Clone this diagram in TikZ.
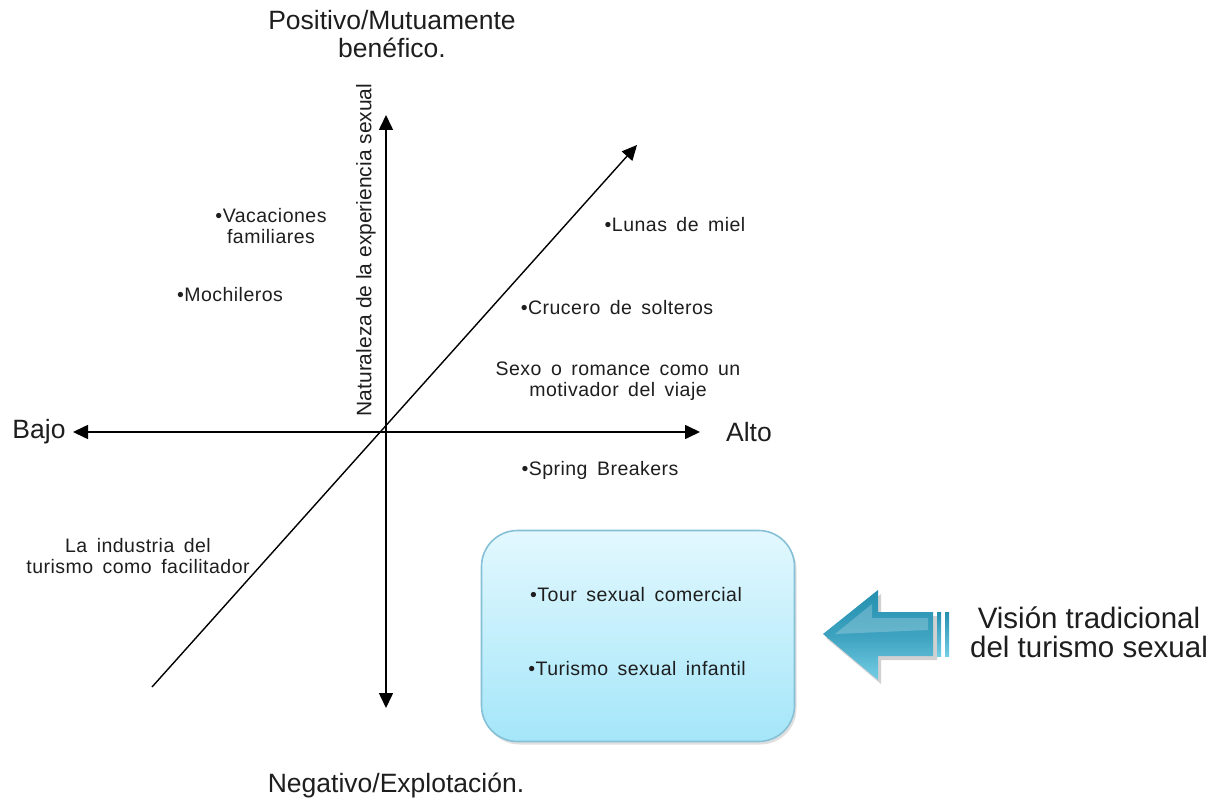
\documentclass[tikz,border=0pt]{standalone}
\usepackage{fontspec}
\setmainfont{Liberation Sans}
\newfontfamily\spacedfont[LetterSpace=2.5,WordSpace=1.6]{Liberation Sans}
\usetikzlibrary{arrows.meta,shadows}
\definecolor{txt}{HTML}{1E1E1E}
\definecolor{boxtop}{HTML}{E3F8FE}
\definecolor{boxbot}{HTML}{A4E6F9}
\definecolor{boxline}{HTML}{86C0D6}
\definecolor{arrtop}{HTML}{2590B0}
\definecolor{arrbot}{HTML}{74CDE4}
\tikzset{
  axis/.style={line width=1.6pt,draw=black,-{Triangle[length=15pt,width=14pt]}},
  axisboth/.style={line width=1.6pt,draw=black,{Triangle[length=15pt,width=14pt]}-{Triangle[length=15pt,width=14pt]}},
  big/.style={font=\fontsize{26.5}{31}\selectfont,text=txt,inner sep=0pt,align=center},
  small/.style={font=\spacedfont\fontsize{19.5}{22}\selectfont,text=txt,inner sep=0pt,align=center},
  vision/.style={font=\fontsize{29.5}{31}\selectfont,text=txt,inner sep=0pt,align=center},
  bluebox/.style={rounded corners=36pt,top color=boxtop,bottom color=boxbot,draw=boxline,line width=1.6pt,
    minimum width=313pt,minimum height=211pt,drop shadow={shadow xshift=2pt,shadow yshift=-3pt,opacity=0.25}}
}
\begin{document}
\begin{tikzpicture}[x=1pt,y=-1pt]
\useasboundingbox (0,0) rectangle (1217,799);
\fill[white] (0,0) rectangle (1217,799);

% axis end points
\coordinate (hl) at (73,432);
\coordinate (hr) at (700,432);
\coordinate (vt) at (386,115);
\coordinate (vb) at (386,708);
\coordinate (dl) at (152,687);
\coordinate (dr) at (637,145);

\draw[axisboth] (hl) -- (hr);
\draw[axisboth] (vt) -- (vb);
\draw[axis,line width=1.4pt] (dl) -- (dr);

% labels
\node[big] (pos) at (392,34) {Positivo/Mutuamente\\[-3pt]benéfico.};
\node[big] (neg) at (396,785) {Negativo/Explotación.};
\node[big] (bajo) at (39,432) {Bajo};
\node[big] (alto) at (749,432) {Alto};
\node[font=\fontsize{21}{24}\selectfont,text=txt,inner sep=0pt,rotate=90] (nat) at (366,250) {Naturaleza de la experiencia sexual};

\node[small] (vac) at (271,226) {•Vacaciones\\[-1pt]familiares};
\node[small] (moch) at (230,295) {•Mochileros};
\node[small] (luna) at (675,225) {•Lunas de miel};
\node[small] (cruc) at (617,308) {•Crucero de solteros};
\node[small] (sexo) at (618,381) {Sexo o romance como un\\[-1pt]motivador del viaje};
\node[small] (spring) at (600,470) {•Spring Breakers};
\node[small] (ind) at (138,556) {La industria del\\[-1pt]turismo como facilitador};

% box
\node[bluebox] (box) at (638,636) {};
\node[small] (tour) at (636,595) {•Tour sexual comercial};
\node[small] (inf) at (637,669) {•Turismo sexual infantil};

% block arrow
\begin{scope}
\fill[black,opacity=0.18] (826,638) -- (881,594) -- (881,616) -- (937,616) -- (937,660) -- (881,660) -- (881,684) -- cycle;
\shade[top color=arrtop,bottom color=arrbot,middle color=arrtop!70!arrbot] (823,634) -- (878,590) -- (878,612) -- (933,612) -- (933,656) -- (878,656) -- (878,680) -- cycle;
\fill[white,opacity=0.22] (835,634) -- (872,604) -- (872,618) -- (928,618) -- (928,630) -- cycle;
\shade[top color=arrtop,bottom color=arrbot] (937,612) rectangle (941,656);
\shade[top color=arrtop,bottom color=arrbot] (945,612) rectangle (949,656);
\end{scope}
\node[vision] (vis) at (1089,632) {Visión tradicional\\[-2pt]del turismo sexual};
\end{tikzpicture}
\end{document}
